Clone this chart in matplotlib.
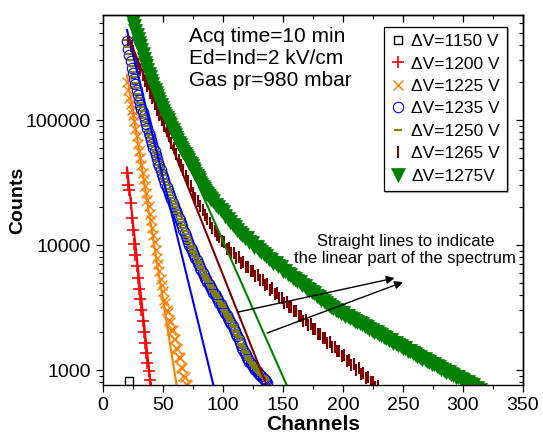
import numpy as np
import matplotlib.pyplot as plt
from matplotlib.ticker import (FixedLocator, MultipleLocator, LogLocator,
                               NullFormatter, FuncFormatter)

# ---------------- spectra (channel, counts) ----------------
ch_1150 = [22]
cnt_1150 = [815]

ch_1200 = np.arange(20, 41)
cnt_1200 = [38000, 30200, 27500, 21900, 16600, 13200, 10200, 8320, 6760, 5500,
            4470, 3720, 3020, 2450, 2000, 1660, 1380, 1150, 977, 832, 724]

ch_1225 = np.arange(20, 71)
cnt_1225 = [200000, 174000, 151000, 135000, 120000, 110000, 97700, 85100, 74100, 64600,
            56200, 50100, 43700, 38000, 33900, 29500, 26300, 22900, 20400, 17800,
            15800, 13800, 12000, 10500, 9120, 7940, 7080, 6170, 5370, 4790,
            4270, 3640, 3460, 3010, 2900, 2500, 2420, 2110, 2080, 1760,
            1770, 1490, 1470, 1270, 1250, 1060, 1040, 900, 880, 770,
            760]

ch_1235 = np.arange(20, 138)
cnt_1235 = [427000, 372000, 331000, 295000, 263000, 237000, 214000, 193000, 174000, 158000,
            145000, 133000, 123000, 115000, 107000, 100000, 93300, 86100, 79400, 74100,
            69200, 64600, 60300, 56200, 52500, 49000, 45700, 42700, 39800, 37200,
            35100, 33100, 30900, 29200, 27500, 26000, 24500, 23200, 21900, 20700,
            19500, 18600, 17600, 16600, 15800, 15000, 14100, 13300, 12600, 11900,
            11200, 10600, 10000, 9550, 9120, 8710, 8320, 7940, 7590, 7240,
            6920, 6610, 6310, 6030, 5750, 5500, 5310, 5070, 4900, 4680,
            4520, 4370, 4170, 4030, 3890, 3760, 3630, 3470, 3350, 3200,
            3090, 2950, 2850, 2750, 2630, 2510, 2430, 2340, 2240, 2140,
            2040, 1950, 1860, 1780, 1680, 1580, 1510, 1450, 1380, 1320,
            1260, 1220, 1170, 1140, 1100, 1070, 1035, 1000, 977, 955,
            933, 912, 891, 871, 851, 832, 813, 794]

ch_1250 = np.arange(20, 137)
cnt_1250 = [440000, 385000, 340000, 303000, 272000, 243000, 221000, 198000, 180000, 162000,
            150000, 136000, 127000, 118000, 110000, 103000, 96000, 88800, 82000, 76200,
            71300, 66400, 62200, 57800, 54100, 50400, 47100, 43900, 41000, 38300,
            36200, 34000, 31800, 30100, 28300, 26800, 25200, 23900, 22600, 21300,
            20100, 19100, 18100, 17100, 16300, 15400, 14500, 13700, 13000, 12200,
            11500, 10900, 10300, 9840, 9390, 8970, 8570, 8180, 7820, 7460,
            7130, 6810, 6500, 6210, 5920, 5670, 5470, 5220, 5050, 4820,
            4660, 4500, 4300, 4150, 4010, 3870, 3740, 3570, 3450, 3300,
            3180, 3040, 2940, 2830, 2710, 2590, 2500, 2410, 2310, 2200,
            2100, 2010, 1920, 1830, 1730, 1630, 1560, 1490, 1420, 1360,
            1300, 1260, 1200, 1170, 1130, 1100, 1070, 1030, 1005, 985,
            960, 940, 918, 897, 877, 857, 838]

ch_1265 = np.arange(21, 230, 2)
cnt_1265 = [437000, 389000, 355000, 316000, 282000, 251000, 229000, 204000, 186000, 166000,
            151000, 135000, 120000, 110000, 100000, 89100, 81300, 74100, 66100, 60300,
            53700, 47900, 43700, 39800, 35500, 32400, 29500, 26300, 24000, 22400,
            20400, 19100, 17400, 16200, 15100, 13800, 12900, 12000, 11500, 10700,
            10500, 9330, 9390, 8600, 8680, 7850, 7990, 7240, 7300, 6680,
            6730, 6160, 6200, 5690, 5720, 5250, 5280, 4780, 4870, 4410,
            4500, 4070, 4150, 3760, 3780, 3460, 3490, 3200, 3220, 2950,
            2970, 2690, 2730, 2480, 2520, 2290, 2330, 2120, 2150, 1950,
            1960, 1800, 1810, 1660, 1670, 1530, 1540, 1410, 1420, 1290,
            1310, 1190, 1210, 1100, 1120, 1010, 1030, 935, 950, 862,
            877, 796, 810, 735, 745]

# every channel on the steep head, every second channel on the long tail
ch_1275 = np.concatenate([np.arange(20, 90), np.arange(90, 315, 2)])
cnt_1275 = [832000, 785000, 741000, 692000, 646000, 603000, 562000, 519000, 479000, 447000,
            417000, 389000, 363000, 335000, 309000, 288000, 269000, 251000, 234000, 219000,
            204000, 193000, 182000, 174000, 166000, 157000, 148000, 140000, 132000, 124000,
            117500, 112000, 107000, 103500, 100000, 95500, 91200, 87100, 83200, 79400,
            75900, 72400, 69200, 66100, 63100, 60300, 57500, 55600, 53700, 51900,
            50100, 47900, 45700, 44200, 42700, 40700, 38900, 37200, 35500, 34300,
            33100, 31600, 30200, 29200, 28200, 27200, 26300, 25400, 24500, 24000,
            23400, 22400, 21000, 20100, 19000, 18300, 17100, 16300, 15400, 14500,
            13900, 13100, 12600, 12000, 11400, 11300, 10600, 10300, 9700, 9600,
            9050, 8800, 8450, 8200, 7800, 7650, 7250, 7150, 6800, 6650,
            6250, 6200, 5850, 5800, 5450, 5400, 5150, 5050, 4800, 4720,
            4480, 4400, 4200, 4100, 3920, 3820, 3650, 3580, 3420, 3340,
            3180, 3150, 3020, 2980, 2860, 2850, 2720, 2700, 2620, 2580,
            2490, 2440, 2360, 2330, 2240, 2230, 2150, 2110, 2030, 2010,
            1940, 1920, 1850, 1810, 1750, 1740, 1660, 1640, 1580, 1560,
            1500, 1490, 1430, 1420, 1370, 1340, 1290, 1280, 1230, 1220,
            1180, 1170, 1120, 1120, 1080, 1060, 1020, 1010, 970, 965,
            925, 920, 885, 880, 845, 840, 805, 800, 770, 760,
            725, 725, 695]

# straight-line guides on the linear part of each spectrum (start, end)
fit_ch_1200, fit_cnt_1200 = [20, 40], [41700, 724]
fit_ch_1225, fit_cnt_1225 = [20, 62], [229000, 692]
fit_ch_1235, fit_cnt_1235 = [20, 92], [525000, 759]
fit_ch_1265, fit_cnt_1265 = [21, 136], [468000, 776]
fit_ch_1275, fit_cnt_1275 = [25, 154], [457000, 724]

info_lines = ["Acq time=10 min", "Ed=Ind=2 kV/cm", "Gas pr=980 mbar"]

# ---------------- plotting ----------------
plt.rcParams["font.family"] = ["Liberation Sans", "DejaVu Sans"]
plt.rcParams["axes.linewidth"] = 1.0

fig = plt.figure(figsize=(5.43, 4.38), dpi=100)
ax = fig.add_axes([103 / 543, 1 - 385 / 438, 420 / 543, 370 / 438])
ax.set_yscale("log")

h1150, = ax.plot(ch_1150, cnt_1150, ls="none", marker="s", mfc="none", mec="black",
                 ms=6, mew=1.0, label="ΔV=1150 V")
h1200, = ax.plot(ch_1200, cnt_1200, ls="none", marker="+", color="red",
                 ms=8, mew=1.2, label="ΔV=1200 V")
h1225, = ax.plot(ch_1225, cnt_1225, ls="none", marker="x", color="#ff8000",
                 ms=7, mew=1.0, label="ΔV=1225 V")
h1235, = ax.plot(ch_1235, cnt_1235, ls="none", marker="o", mfc="none", mec="blue",
                 ms=7.5, mew=0.8, label="ΔV=1235 V")
h1250, = ax.plot(ch_1250, cnt_1250, ls="none", marker="_", color="#808000",
                 ms=6, mew=1.5, label="ΔV=1250 V")
h1265, = ax.plot(ch_1265, cnt_1265, ls="none", marker="|", color="#800000",
                 ms=8.5, mew=1.5, label="ΔV=1265 V")
h1275, = ax.plot(ch_1275, cnt_1275, ls="none", marker="v", color="#008000",
                 ms=9.5, mew=0.5, label="ΔV=1275V")

ax.plot(fit_ch_1200, fit_cnt_1200, color="red", lw=1.5)
ax.plot(fit_ch_1225, fit_cnt_1225, color="#ff8000", lw=1.5)
ax.plot(fit_ch_1235, fit_cnt_1235, color="blue", lw=1.5)
ax.plot(fit_ch_1265, fit_cnt_1265, color="#800000", lw=1.5)
ax.plot(fit_ch_1275, fit_cnt_1275, color="#008000", lw=1.5)

ax.set_xlim(0, 350)
ax.set_ylim(760, 692000)

ax.xaxis.set_major_locator(MultipleLocator(50))
ax.xaxis.set_minor_locator(MultipleLocator(25))
ax.yaxis.set_major_locator(FixedLocator([1000, 10000, 100000]))
ax.yaxis.set_minor_locator(LogLocator(base=10, subs=np.arange(2, 10), numticks=20))
ax.yaxis.set_major_formatter(FuncFormatter(lambda v, p: f"{v:.0f}"))
ax.yaxis.set_minor_formatter(NullFormatter())
ax.tick_params(which="major", direction="out", length=5, width=0.9, labelsize=14)
ax.tick_params(which="minor", direction="out", length=3, width=0.8)

# inward ticks on the top and right frame
top = ax.secondary_xaxis("top")
top.xaxis.set_major_locator(MultipleLocator(50))
top.xaxis.set_minor_locator(MultipleLocator(25))
top.xaxis.set_major_formatter(NullFormatter())
top.tick_params(which="major", direction="in", length=5, width=0.9)
top.tick_params(which="minor", direction="in", length=3, width=0.8)

right = ax.secondary_yaxis("right")
right.yaxis.set_major_locator(FixedLocator([1000, 10000, 100000]))
right.yaxis.set_minor_locator(LogLocator(base=10, subs=np.arange(2, 10), numticks=20))
right.yaxis.set_major_formatter(NullFormatter())
right.yaxis.set_minor_formatter(NullFormatter())
right.tick_params(which="major", direction="in", length=5, width=0.9)
right.tick_params(which="minor", direction="in", length=3, width=0.8)

ax.set_xlabel("Channels", fontsize=15, fontweight="bold", labelpad=1)
ax.set_ylabel("Counts", fontsize=14, fontweight="bold", labelpad=0)

ax.text(0.205, 0.968, "\n".join(info_lines), transform=ax.transAxes,
        fontsize=15, va="top", ha="left", linespacing=1.2)

leg = ax.legend(handles=[h1150, h1200, h1225, h1235, h1250, h1265, h1275],
                loc="upper right", bbox_to_anchor=(0.962, 0.9676), borderaxespad=0,
                numpoints=1, fontsize=12.5, handlelength=0.9, handletextpad=0.3,
                labelspacing=0.42, borderpad=0.4, fancybox=False, framealpha=1,
                edgecolor="black", shadow={"color": "0.55", "ox": 1, "oy": -1})
leg.get_frame().set_linewidth(0.9)

# arrows from the guide lines to the note
ax.text(252, 9120, "Straight lines to indicate\nthe linear part of the spectrum",
        fontsize=12, ha="center", va="center", linespacing=1.15)
ax.annotate("", xy=(243, 5445), xytext=(112.5, 2910),
            arrowprops=dict(arrowstyle="-|>", color="black", lw=1.0,
                            mutation_scale=12, shrinkA=0, shrinkB=0))
ax.annotate("", xy=(250, 5058), xytext=(136.7, 1977),
            arrowprops=dict(arrowstyle="-|>", color="black", lw=1.0,
                            mutation_scale=12, shrinkA=0, shrinkB=0))

fig.savefig("out.png", dpi=100)
